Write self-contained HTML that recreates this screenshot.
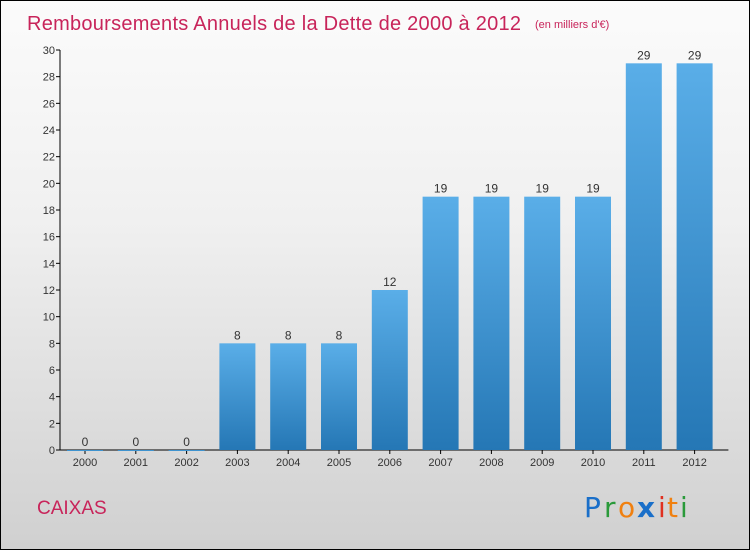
<!DOCTYPE html>
<html><head><meta charset="utf-8"><style>
body{margin:0}
#c{width:748px;height:548px;border:1px solid #000;background:linear-gradient(#fbfbfb,#f0f0f0 40%,#d0d0d0);position:relative;font-family:"Liberation Sans",sans-serif;overflow:hidden}
</style></head><body>
<div id="c">
<svg width="748" height="548" xmlns="http://www.w3.org/2000/svg" id="svg">
<defs><linearGradient id="bg" x1="0" y1="0" x2="0" y2="1"><stop offset="0" stop-color="#5aaee8"/><stop offset="1" stop-color="#2577b5"/></linearGradient></defs>
<text x="26" y="29" font-size="20" fill="#c8245a" textLength="494">Remboursements Annuels de la Dette de 2000 à 2012</text>
<text x="534" y="27" font-size="11" fill="#c8245a">(en milliers d'€)</text>
<g id="axes"></g><g id="bars"></g>
<text x="36" y="513" font-size="19" fill="#c8245a">CAIXAS</text>
<g font-size="28" font-family="DejaVu Sans,sans-serif">
<text x="583" y="516" fill="#1a6fc9">P</text><text x="603" y="516" fill="#2a9a3a">r</text><text x="617" y="516" fill="#f08010">o</text><text x="636" y="516" fill="#1a6fc9" font-weight="bold">x</text><text x="657" y="516" fill="#e03020">i</text><text x="666" y="516" fill="#f08010">t</text><text x="679" y="516" fill="#2a9a3a">i</text>
</g>
</svg></div>
<script>
const years=["2000","2001","2002","2003","2004","2005","2006","2007","2008","2009","2010","2011","2012"];
const values=[0,0,0,8,8,8,12,19,19,19,19,29,29];
const yTicks=[0,2,4,6,8,10,12,14,16,18,20,22,24,26,28,30];
const NS="http://www.w3.org/2000/svg";
const x0=59,y0=449,yTop=49,step=50.8,bw=36;
const y=v=>y0-(v/30)*(y0-yTop);
const xc=i=>x0+25+i*step;
function mk(t,a,p,txt){const e=document.createElementNS(NS,t);for(const k in a)e.setAttribute(k,a[k]);if(txt!==undefined)e.textContent=txt;p.appendChild(e);return e;}
const ax=document.getElementById('axes'),bars=document.getElementById('bars');
let e=mk('line',{x1:x0,y1:yTop,x2:x0,y2:y0,stroke:'#000'},ax);

e=mk('line',{x1:x0,y1:y0,x2:x0+13*step+8,y2:y0,stroke:'#000'},ax);

yTicks.forEach(v=>{
 mk('line',{x1:x0-4,y1:y(v),x2:x0,y2:y(v),stroke:'#000'},ax);
 const t=mk('text',{x:x0-5,y:y(v)+4,'font-size':11,'text-anchor':'end',fill:'#333'},ax,v);
 
});
years.forEach((yr,i)=>{
 mk('line',{x1:xc(i),y1:y0,x2:xc(i),y2:y0+4,stroke:'#000'},ax);
 const t=mk('text',{x:xc(i),y:y0+16,'font-size':11,'text-anchor':'middle',fill:'#333'},ax,yr);
 
 const v=values[i];
 const r=mk('rect',{x:xc(i)-bw/2,y:y(v),width:bw,height:Math.max(y0-y(v),1),fill:'url(#bg)'},bars);
 
 const l=mk('text',{x:xc(i),y:y(v)-4,'font-size':12,'text-anchor':'middle',fill:'#333'},bars,v);
 
});
</script>
</body></html>
